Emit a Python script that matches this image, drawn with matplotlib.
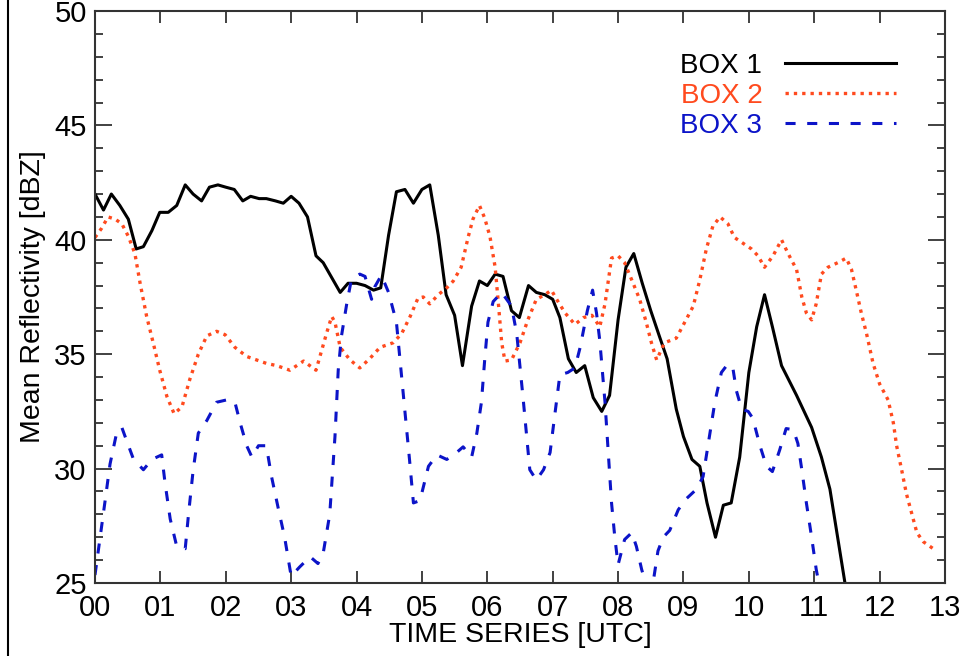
import matplotlib
matplotlib.use("Agg")
import matplotlib.pyplot as plt
from matplotlib.lines import Line2D
from matplotlib.ticker import MultipleLocator

plt.rcParams['font.family'] = ['Liberation Sans', 'DejaVu Sans']

# Mean reflectivity per box (hours UTC, dBZ)
box1_t = [0.0, 0.13, 0.25, 0.38, 0.51, 0.63, 0.74, 0.87, 0.99, 1.12,
          1.25, 1.38, 1.50, 1.63, 1.75, 1.88, 2.00, 2.13, 2.26, 2.38,
          2.51, 2.62, 2.76, 2.88, 3.00, 3.12, 3.25, 3.38, 3.49, 3.59,
          3.75, 3.87, 4.00, 4.13, 4.26, 4.37, 4.49, 4.61, 4.74, 4.87,
          5.00, 5.12, 5.25, 5.37, 5.50, 5.62, 5.76, 5.88, 6.00, 6.12,
          6.24, 6.37, 6.49, 6.63, 6.75, 6.88, 7.00, 7.11, 7.24, 7.36,
          7.49, 7.62, 7.75, 7.87, 8.00, 8.12, 8.24, 8.37, 8.50, 8.63,
          8.75, 8.89, 9.00, 9.13, 9.25, 9.36, 9.49, 9.61, 9.73, 9.86,
          10.00, 10.12, 10.24, 10.36, 10.50, 10.73, 10.96, 11.11, 11.24, 11.47,
          11.55]
box1_v = [42.0, 41.3, 42.0, 41.5, 40.9, 39.6, 39.7, 40.4, 41.2, 41.2,
          41.5, 42.4, 42.0, 41.7, 42.3, 42.4, 42.3, 42.2, 41.7, 41.9,
          41.8, 41.8, 41.7, 41.6, 41.9, 41.6, 41.0, 39.3, 39.0, 38.5,
          37.7, 38.1, 38.1, 38.0, 37.8, 37.9, 40.2, 42.1, 42.2, 41.6,
          42.2, 42.4, 40.2, 37.6, 36.7, 34.5, 37.1, 38.2, 38.0, 38.5,
          38.4, 36.9, 36.6, 38.0, 37.7, 37.6, 37.4, 36.6, 34.8, 34.2,
          34.5, 33.1, 32.5, 33.2, 36.5, 38.8, 39.4, 38.1, 36.9, 35.8,
          34.8, 32.6, 31.4, 30.4, 30.1, 28.5, 27.0, 28.4, 28.5, 30.5,
          34.2, 36.2, 37.6, 36.2, 34.5, 33.2, 31.8, 30.5, 29.1, 25.0,
          23.8]

box2_t = [0.0, 0.10, 0.20, 0.31, 0.41, 0.51, 0.61, 0.69, 0.79, 0.89,
          0.99, 1.10, 1.21, 1.33, 1.45, 1.58, 1.71, 1.86, 1.99, 2.14,
          2.32, 2.47, 2.62, 2.78, 2.98, 3.19, 3.38, 3.44, 3.54, 3.62,
          3.67, 3.75, 3.90, 4.05, 4.20, 4.36, 4.56, 4.69, 4.82, 4.94,
          5.02, 5.12, 5.25, 5.38, 5.48, 5.60, 5.71, 5.78, 5.88, 5.96,
          6.04, 6.12, 6.17, 6.22, 6.27, 6.37, 6.50, 6.62, 6.75, 6.88,
          6.98, 7.06, 7.19, 7.34, 7.47, 7.60, 7.72, 7.80, 7.90, 8.00,
          8.10, 8.23, 8.33, 8.43, 8.51, 8.59, 8.71, 8.89, 9.02, 9.15,
          9.25, 9.35, 9.45, 9.56, 9.68, 9.78, 9.91, 10.04, 10.14, 10.24,
          10.37, 10.50, 10.60, 10.73, 10.81, 10.88, 10.96, 11.03, 11.11, 11.21,
          11.36, 11.49, 11.57, 11.65, 11.72, 11.80, 11.90, 12.00, 12.13, 12.21,
          12.26, 12.34, 12.41, 12.49, 12.57, 12.67, 12.82]
box2_v = [40.1, 40.5, 41.0, 40.9, 40.7, 40.15, 39.4, 38.1, 36.65, 35.5,
          34.3, 33.15, 32.4, 32.7, 33.9, 35.0, 35.8, 36.0, 35.85, 35.3,
          34.9, 34.75, 34.6, 34.5, 34.3, 34.7, 34.3, 34.9, 35.9, 36.65,
          36.4, 35.3, 34.75, 34.4, 34.8, 35.3, 35.5, 35.9, 36.65, 37.45,
          37.5, 37.2, 37.6, 37.9, 38.2, 38.8, 40.15, 40.9, 41.5, 40.95,
          40.15, 38.8, 37.2, 35.5, 34.7, 34.75, 35.5, 36.5, 37.4, 37.6,
          37.8, 37.4, 36.8, 36.3, 36.6, 36.7, 36.2, 37.2, 39.2, 39.3,
          39.0, 38.1, 37.4, 36.4, 35.5, 34.75, 35.5, 35.7, 36.4, 37.1,
          38.25, 39.6, 40.6, 41.0, 40.7, 40.1, 39.85, 39.6, 39.3, 38.8,
          39.3, 40.0, 39.4, 38.7, 37.5, 36.8, 36.5, 37.2, 38.5, 38.8,
          39.0, 39.2, 38.7, 37.7, 36.8, 35.9, 34.6, 33.7, 33.0, 32.0,
          31.0, 29.9, 28.9, 28.05, 27.2, 26.8, 26.5]

box3_t = [0.0, 0.05, 0.15, 0.23, 0.33, 0.41, 0.48, 0.59, 0.74, 0.87,
          1.02, 1.07, 1.15, 1.25, 1.38, 1.43, 1.50, 1.58, 1.71, 1.86,
          2.01, 2.14, 2.22, 2.32, 2.40, 2.50, 2.62, 2.70, 2.80, 2.90,
          3.00, 3.13, 3.29, 3.41, 3.49, 3.59, 3.67, 3.72, 3.77, 3.85,
          3.92, 4.05, 4.13, 4.23, 4.28, 4.38, 4.49, 4.61, 4.71, 4.81,
          4.87, 4.97, 5.10, 5.23, 5.38, 5.53, 5.63, 5.76, 5.84, 5.91,
          5.96, 6.01, 6.09, 6.22, 6.37, 6.45, 6.55, 6.65, 6.75, 6.86,
          6.96, 7.03, 7.11, 7.23, 7.34, 7.42, 7.53, 7.61, 7.67, 7.72,
          7.80, 7.85, 7.90, 7.95, 8.00, 8.10, 8.21, 8.28, 8.36, 8.45,
          8.54, 8.61, 8.69, 8.79, 8.92, 9.05, 9.20, 9.30, 9.38, 9.48,
          9.58, 9.66, 9.75, 9.81, 9.89, 9.99, 10.06, 10.17, 10.27, 10.36,
          10.47, 10.57, 10.68, 10.75, 10.81, 10.88, 10.96, 11.03, 11.07, 11.15]
box3_v = [25.35, 26.4, 28.5, 30.2, 31.55, 31.8, 31.25, 30.4, 29.95, 30.4,
          30.6, 29.4, 27.8, 26.6, 26.5, 28.0, 29.9, 31.55, 32.1, 32.9,
          33.0, 32.9, 32.0, 31.0, 30.5, 31.0, 31.0, 29.65, 28.3, 27.0,
          25.3, 25.7, 26.15, 25.85, 26.3, 28.0, 31.4, 34.3, 35.8, 37.2,
          38.25, 38.5, 38.4, 37.4, 37.95, 38.45, 37.7, 36.4, 33.4, 30.4,
          28.5, 28.6, 30.1, 30.6, 30.4, 30.7, 30.95, 30.5, 31.55, 32.9,
          34.75, 36.4, 37.3, 37.7, 37.1, 35.9, 33.0, 29.95, 29.5, 29.95,
          30.7, 32.3, 34.1, 34.2, 34.4, 35.3, 36.9, 37.8, 36.8, 35.6,
          32.9, 30.7, 28.5, 27.0, 25.8, 26.9, 27.2, 26.6, 25.6, 24.7,
          25.1, 26.4, 27.0, 27.3, 28.2, 28.7, 29.1, 29.65, 31.1, 32.9,
          34.2, 34.5, 34.5, 33.4, 32.6, 32.5, 32.2, 31.0, 30.1, 29.87,
          30.8, 31.75, 31.7, 31.1, 29.95, 28.5, 27.0, 25.6, 25.0, 23.6]

hour_ticks = list(range(0, 14))
hour_labels = ["%02d" % h for h in hour_ticks]
series_names = ["BOX 1", "BOX 2", "BOX 3"]
RED = "#FF4A1E"
BLUE = "#0C14C8"
AXCOL = "#333333"

fig = plt.figure(figsize=(9.62, 6.56), dpi=100)
ax = fig.add_axes([95 / 962, 73 / 656, 850 / 962, 572 / 656])

ax.plot(box1_t, box1_v, color="black", lw=2.2, label=series_names[0])
ax.plot(box2_t, box2_v, color=RED, lw=2.4, linestyle=(0, (1.0, 1.5)),
        label=series_names[1])
ax.plot(box3_t, box3_v, color=BLUE, lw=2.2, linestyle=(0, (3.3, 3.8)),
        label=series_names[2])

ax.set_xlim(0, 13)
ax.set_ylim(25, 50)
ax.set_xticks(hour_ticks)
ax.set_xticklabels(hour_labels)
ax.yaxis.set_major_locator(MultipleLocator(5))
ax.yaxis.set_minor_locator(MultipleLocator(1))

for sp in ax.spines.values():
    sp.set_color(AXCOL)
    sp.set_linewidth(1.5)
ax.tick_params(axis="both", which="both", direction="in", color=AXCOL,
               top=True, right=True, labelsize=21, width=1.3)
ax.tick_params(axis="x", which="major", length=8.5, pad=8)
ax.tick_params(axis="y", which="major", length=12, pad=6)
ax.tick_params(axis="y", which="minor", length=6)

ax.set_xlabel("TIME SERIES [UTC]", fontsize=20.5, labelpad=0)
ax.set_ylabel("Mean Reflectivity [dBZ]", fontsize=20.5, labelpad=6)

leg = ax.legend(loc="upper right", bbox_to_anchor=(0.942, 0.927),
                frameon=False, markerfirst=False, fontsize=20,
                handlelength=4.0, handletextpad=0.8, labelspacing=0.15,
                borderpad=0, borderaxespad=0, labelcolor="linecolor")

# frame line of the original page on the left
fig.add_artist(Line2D([8 / 962, 8 / 962], [0, 1], color="black", lw=1.5,
                      transform=fig.transFigure))

fig.savefig("out.png", dpi=100)
